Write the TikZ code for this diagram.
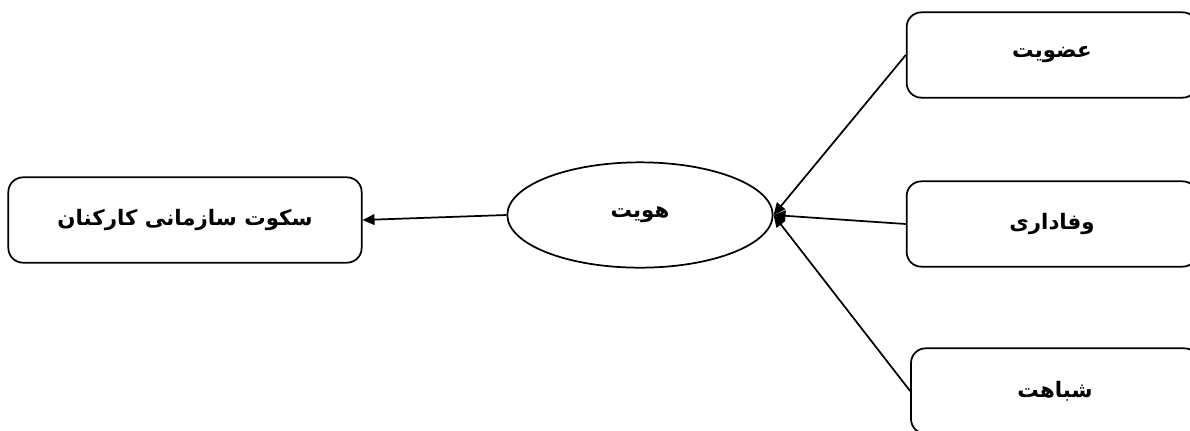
\documentclass[tikz,border=0pt]{standalone}
\usepackage{fontspec}
\newfontfamily\arabicfont[Script=Arabic]{DejaVu Sans}
\TeXXeTstate=1
\usetikzlibrary{arrows.meta,shapes.geometric}
\newcommand{\fatext}[1]{\beginR#1\endR}

\begin{document}
\begin{tikzpicture}[
x=0.75pt, y=-0.75pt,
box/.style={draw, rounded corners=11pt, line width=1.3pt, align=center, minimum height=64pt, font={\arabicfont\bfseries\fontsize{16}{19}\selectfont}},
oval/.style={draw, ellipse, line width=1.3pt, inner sep=0pt, minimum width=199pt, minimum height=79pt, font={\arabicfont\bfseries\fontsize{16}{19}\selectfont}},
arr/.style={-{Triangle[length=9pt, width=8pt]}, line width=1.3pt}
]
\useasboundingbox (0,0) rectangle (1190,430);

\node[oval] (hoviat) at (640,215) {\fatext{هویت}};
\node[box, minimum width=265pt] (sokut) at (185,220) {\fatext{سکوت سازمانی کارکنان}};

\node[box, minimum width=218pt] (ozviyat) at (1052,55) {\fatext{عضویت}};
\node[box, minimum width=218pt] (vafadari) at (1052,224) {\fatext{وفاداری}};
\node[box, minimum width=216pt] (shebahat) at (1055,391) {\fatext{شباهت}};

\draw[arr] (ozviyat.west) -- (hoviat.east);
\draw[arr] (vafadari.west) -- (hoviat.east);
\draw[arr] (shebahat.west) -- (hoviat.east);
\draw[arr] (hoviat.west) -- (sokut.east);

\end{tikzpicture}
\end{document}
